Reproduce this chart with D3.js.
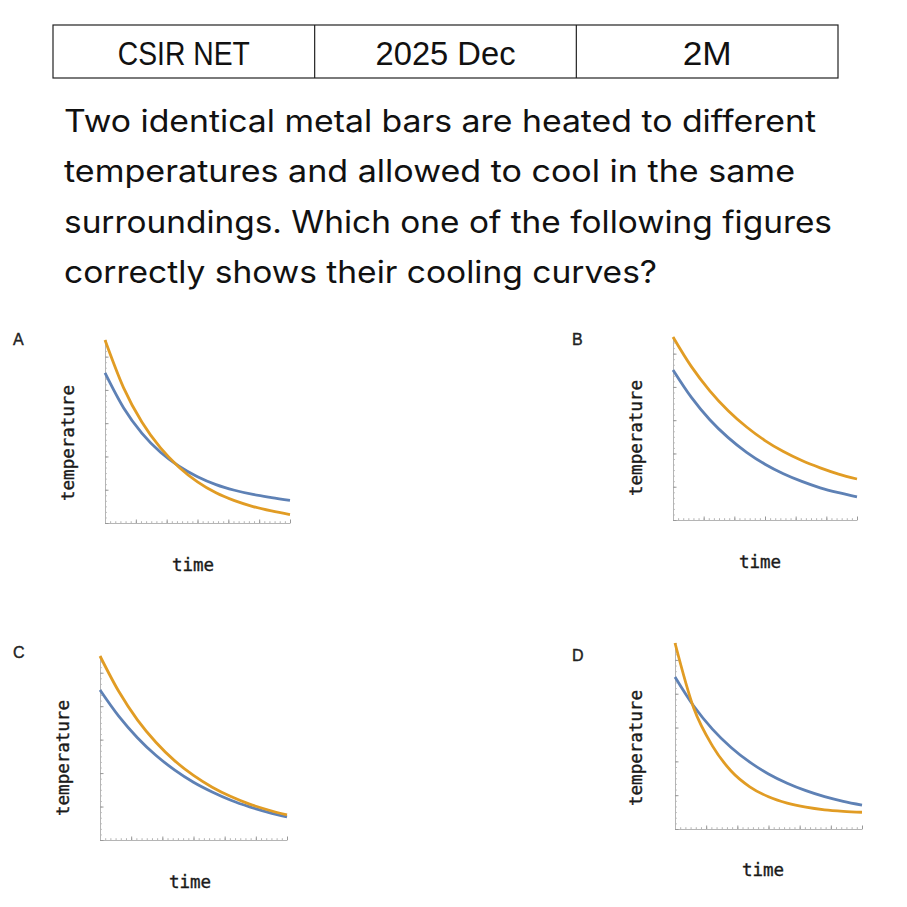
<!DOCTYPE html>
<html>
<head>
<meta charset="utf-8">
<script src="https://cdn.jsdelivr.net/npm/d3@7"></script>
<style>
  html, body { margin: 0; padding: 0; background: #fff; }
  svg { display: block; }
</style>
</head>
<body>
<svg id="chart" width="907" height="907"></svg>
<script>
// ---------- DATA ----------
const headerCells = ["CSIR NET", "2025 Dec", "2M"];
const questionLines = [
  "Two identical metal bars are heated to different",
  "temperatures and allowed to cool in the same",
  "surroundings. Which one of the following figures",
  "correctly shows their cooling curves?"
];
const panelLetters = ["A", "B", "C", "D"];
const xLabel = "time";
const yLabel = "temperature";
const time = [0, 1, 2, 3, 4, 5, 6, 7, 8, 9, 10];
const aOrange = [100, 74, 55, 41, 30.5, 22.5, 16.5, 12.2, 9, 6.6, 4.6];
const aBlue   = [82, 63, 49, 38.7, 31, 25.3, 21, 17.9, 15.6, 13.9, 12.4];
const bOrange = [100, 83.8, 70.6, 59.7, 50.8, 43.4, 37.4, 32.5, 28.5, 25.1, 22.4];
const bBlue   = [82, 67, 54.8, 45, 37, 30.5, 25.3, 21.1, 17.6, 14.9, 12.6];
const cOrange = [100, 80.8, 65.3, 53, 43, 35.1, 28.7, 23.6, 19.5, 16.3, 13.6];
const cBlue   = [81.5, 67.3, 55.6, 45.9, 38, 31.4, 26.1, 21.6, 18, 15, 12.5];
const dOrange = [100, 65, 44.7, 31.2, 22.7, 17.3, 13.9, 11.7, 10.3, 9.5, 9.0];
const dBlue   = [81.7, 66.1, 53.7, 43.8, 35.9, 29.6, 24.6, 20.6, 17.4, 14.9, 12.9];

// ---------- LAYOUT ----------
const svg = d3.select("#chart");
const BLUE = "#5e81b5", ORANGE = "#e19c24";

// header table
const tbl = { x0: 53, x1: 838, y0: 25, y1: 78 };
const colW = (tbl.x1 - tbl.x0) / 3;
const headerWidths = [132, 140, 49];
const hg = svg.append("g");
hg.append("rect").attr("x", tbl.x0).attr("y", tbl.y0)
  .attr("width", tbl.x1 - tbl.x0).attr("height", tbl.y1 - tbl.y0)
  .attr("fill", "none").attr("stroke", "#222").attr("stroke-width", 1.2);
[1, 2].forEach(i => hg.append("line")
  .attr("x1", tbl.x0 + i * colW).attr("x2", tbl.x0 + i * colW)
  .attr("y1", tbl.y0).attr("y2", tbl.y1)
  .attr("stroke", "#222").attr("stroke-width", 1.2));
headerCells.forEach((t, i) => {
  hg.append("text")
    .attr("x", tbl.x0 + colW * (i + 0.5)).attr("y", 65)
    .attr("text-anchor", "middle")
    .attr("font-family", "'Liberation Sans Narrow', 'Liberation Sans', Arial, sans-serif")
    .attr("font-size", 33).attr("fill", "#111")
    .attr("textLength", headerWidths[i]).attr("lengthAdjust", "spacingAndGlyphs")
    .text(t);
});

// question text
const qBase = [132, 182, 233, 283];
const qWidths = [752, 731, 768, 593];
questionLines.forEach((t, i) => {
  svg.append("text")
    .attr("x", 64).attr("y", qBase[i])
    .attr("font-family", "Inter, 'Noto Sans', sans-serif")
    .attr("font-size", 31).attr("fill", "#111")
    .attr("textLength", qWidths[i]).attr("lengthAdjust", "spacingAndGlyphs")
    .text(t);
});

// panels
const panels = [
  { letter: panelLetters[0], lx: 13, ly: 345, x0: 105, x1: 290, yb: 523, yt: 340,
    tyx: 68, tyy: 443, txx: 193, txy: 571, orange: aOrange, blue: aBlue },
  { letter: panelLetters[1], lx: 572, ly: 345, x0: 673, x1: 857, yb: 520, yt: 337,
    tyx: 636, tyy: 438, txx: 760, txy: 568, orange: bOrange, blue: bBlue },
  { letter: panelLetters[2], lx: 13, ly: 658, x0: 100, x1: 287, yb: 840, yt: 656,
    tyx: 63, tyy: 758, txx: 190, txy: 888, orange: cOrange, blue: cBlue },
  { letter: panelLetters[3], lx: 572, ly: 661, x0: 675, x1: 862, yb: 829, yt: 643,
    tyx: 636, tyy: 748, txx: 763, txy: 876, orange: dOrange, blue: dBlue }
];

panels.forEach(p => {
  const g = svg.append("g");
  const x = d3.scaleLinear().domain([0, 10]).range([p.x0, p.x1]);
  const y = d3.scaleLinear().domain([0, 100]).range([p.yb, p.yt]);

  g.append("text").attr("x", p.lx).attr("y", p.ly)
    .attr("font-family", "'Liberation Sans', Arial, sans-serif")
    .attr("font-size", 16).attr("fill", "#222")
    .attr("stroke", "#222").attr("stroke-width", 0.4).text(p.letter);

  const xMinor = d3.range(0, 10.0001, 10 / 36);
  const xMajor = d3.range(0, 10.0001, 10 / 6);
  const yMinor = d3.range(0, 100.0001, 100 / 33);
  const yMajor = d3.range(0, 100.0001, 100 / 5.5);

  g.append("g").attr("transform", `translate(0,${p.yb})`)
    .call(d3.axisTop(x).tickValues(xMinor).tickSize(1.8).tickFormat("").tickSizeOuter(0))
    .call(s => s.select(".domain").attr("stroke", "#b5b5b5"))
    .call(s => s.selectAll(".tick line").attr("stroke", "#b5b5b5"));
  g.append("g").attr("transform", `translate(0,${p.yb})`)
    .call(d3.axisTop(x).tickValues(xMajor).tickSize(3.5).tickFormat("").tickSizeOuter(0))
    .call(s => s.select(".domain").remove())
    .call(s => s.selectAll(".tick line").attr("stroke", "#999"));
  g.append("g").attr("transform", `translate(${p.x0},0)`)
    .call(d3.axisRight(y).tickValues(yMinor).tickSize(1.8).tickFormat("").tickSizeOuter(0))
    .call(s => s.select(".domain").attr("stroke", "#b5b5b5"))
    .call(s => s.selectAll(".tick line").attr("stroke", "#b5b5b5"));
  g.append("g").attr("transform", `translate(${p.x0},0)`)
    .call(d3.axisRight(y).tickValues(yMajor).tickSize(3.5).tickFormat("").tickSizeOuter(0))
    .call(s => s.select(".domain").remove())
    .call(s => s.selectAll(".tick line").attr("stroke", "#999"));

  const line = d3.line().x((d, i) => x(time[i])).y(d => y(d)).curve(d3.curveMonotoneX);
  g.append("path").datum(p.blue).attr("d", line)
    .attr("fill", "none").attr("stroke", BLUE).attr("stroke-width", 2.8);
  g.append("path").datum(p.orange).attr("d", line)
    .attr("fill", "none").attr("stroke", ORANGE).attr("stroke-width", 2.8);

  g.append("text")
    .attr("transform", `translate(${p.tyx},${p.tyy}) rotate(-90)`)
    .attr("text-anchor", "middle").attr("dominant-baseline", "central")
    .attr("font-family", "'DejaVu Sans Mono', monospace")
    .attr("font-size", 17.5).attr("fill", "#1a1a1a")
    .attr("stroke", "#1a1a1a").attr("stroke-width", 0.35).text(yLabel);
  g.append("text")
    .attr("x", p.txx).attr("y", p.txy).attr("text-anchor", "middle")
    .attr("font-family", "'DejaVu Sans Mono', monospace")
    .attr("font-size", 17.5).attr("fill", "#1a1a1a")
    .attr("stroke", "#1a1a1a").attr("stroke-width", 0.35).text(xLabel);
});
</script>
</body>
</html>
